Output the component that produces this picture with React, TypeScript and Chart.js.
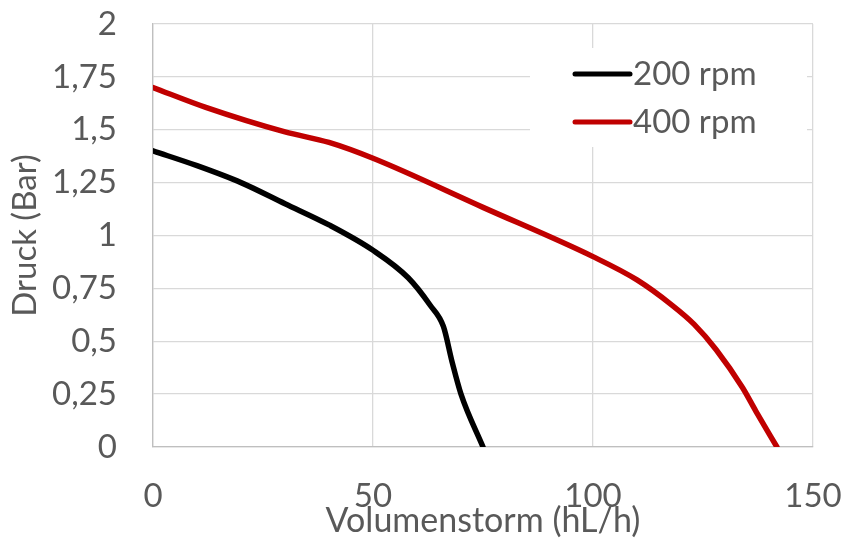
import React, { useEffect, useRef } from "react";
import { Chart, registerables } from "chart.js";

Chart.register(...registerables);

const flow200 = [0, 10, 20, 30, 40, 50, 58, 63, 66, 68, 70, 75];
const druck200 = [1.4, 1.33, 1.25, 1.15, 1.05, 0.93, 0.8, 0.67, 0.57, 0.4, 0.25, 0];

const flow400 = [0, 12, 30, 40, 50, 75, 100, 110, 118, 123, 128, 134, 137, 141.8];
const druck400 = [1.7, 1.606, 1.49, 1.44, 1.365, 1.133, 0.9, 0.79, 0.67, 0.58, 0.46, 0.28, 0.17, 0];

const seriesLabels = ["200 rpm", "400 rpm"];
const xTicks = [0, 50, 100, 150];
const yTickStep = 0.25;

const FONT = "Lato, 'Open Sans', sans-serif";
const GREY = "#595959";

const legendPlugin = {
  id: "insideLegend",
  afterDatasetsDraw(chart: any) {
    const { ctx, chartArea } = chart;
    const boxRight = chartArea.right - 6;
    const boxLeft = boxRight - 277;
    const boxTop = chartArea.top + 24;
    const boxBottom = chartArea.top + 123;
    ctx.save();
    ctx.fillStyle = "#ffffff";
    ctx.fillRect(boxLeft, boxTop, boxRight - boxLeft, boxBottom - boxTop);
    chart.data.datasets.forEach((ds: any, i: number) => {
      const y = boxTop + 26 + i * 48;
      const x0 = boxLeft + 45;
      ctx.strokeStyle = ds.borderColor;
      ctx.lineWidth = 5;
      ctx.lineCap = "round";
      ctx.beginPath();
      ctx.moveTo(x0, y);
      ctx.lineTo(x0 + 55, y);
      ctx.stroke();
      ctx.fillStyle = GREY;
      ctx.font = `33px ${FONT}`;
      ctx.textBaseline = "middle";
      ctx.textAlign = "left";
      ctx.fillText(ds.label, x0 + 58, y);
    });
    ctx.restore();
  },
};

export default function App() {
  const ref = useRef<HTMLCanvasElement | null>(null);
  useEffect(() => {
    if (!ref.current) return;
    const chart = new Chart(ref.current, {
      type: "line",
      data: {
        datasets: [
          {
            label: seriesLabels[0],
            data: flow200.map((x, i) => ({ x, y: druck200[i] })),
            borderColor: "#000000",
            backgroundColor: "#000000",
            borderWidth: 5.5,
            pointRadius: 0,
            cubicInterpolationMode: "monotone",
            borderCapStyle: "round",
          },
          {
            label: seriesLabels[1],
            data: flow400.map((x, i) => ({ x, y: druck400[i] })),
            borderColor: "#C00000",
            backgroundColor: "#C00000",
            borderWidth: 5.5,
            pointRadius: 0,
            cubicInterpolationMode: "monotone",
            borderCapStyle: "round",
          },
        ],
      },
      options: {
        animation: false,
        responsive: false,
        maintainAspectRatio: false,
        layout: { padding: { left: 0, right: 30, top: 24, bottom: 0 } },
        plugins: {
          legend: { display: false },
          tooltip: { enabled: false },
        },
        scales: {
          x: {
            type: "linear",
            min: 0,
            max: 150,
            afterBuildTicks: (scale: any) => {
              scale.ticks = xTicks.map((v) => ({ value: v }));
            },
            afterFit: (scale: any) => {
              scale.height = 97;
              scale.paddingLeft = 0;
              scale.paddingRight = 0;
            },
            grid: { color: "#d9d9d9", lineWidth: 1.3, drawTicks: false },
            border: { color: "#bfbfbf", width: 1.3 },
            ticks: {
              padding: 30,
              color: GREY,
              font: { family: FONT, size: 33 },
              maxRotation: 0,
            },
            title: {
              display: true,
              text: "Volumenstorm (hL/h)",
              color: GREY,
              font: { family: FONT, size: 34 },
              padding: { top: 0, bottom: 3 },
            },
          },
          y: {
            min: 0,
            max: 2,
            afterFit: (scale: any) => {
              scale.width = 153;
              scale.paddingTop = 0;
              scale.paddingBottom = 0;
            },
            grid: { color: "#d9d9d9", lineWidth: 1.3, drawTicks: false },
            border: { color: "#bfbfbf", width: 1.3 },
            ticks: {
              stepSize: yTickStep,
              padding: 36,
              color: GREY,
              font: { family: FONT, size: 33 },
              callback: (v: any) => String(Number(v)).replace(".", ","),
            },
            title: {
              display: true,
              text: "Druck (Bar)",
              color: GREY,
              font: { family: FONT, size: 33 },
              padding: { top: 6, bottom: 0 },
            },
          },
        },
      },
      plugins: [legendPlugin],
    } as any);
    return () => chart.destroy();
  }, []);
  return (
    <div style={{ position: "fixed", left: 0, top: 0, width: 843, height: 544, background: "#fff" }}>
      <canvas ref={ref} width={843} height={544} style={{ width: 843, height: 544 }} />
    </div>
  );
}
